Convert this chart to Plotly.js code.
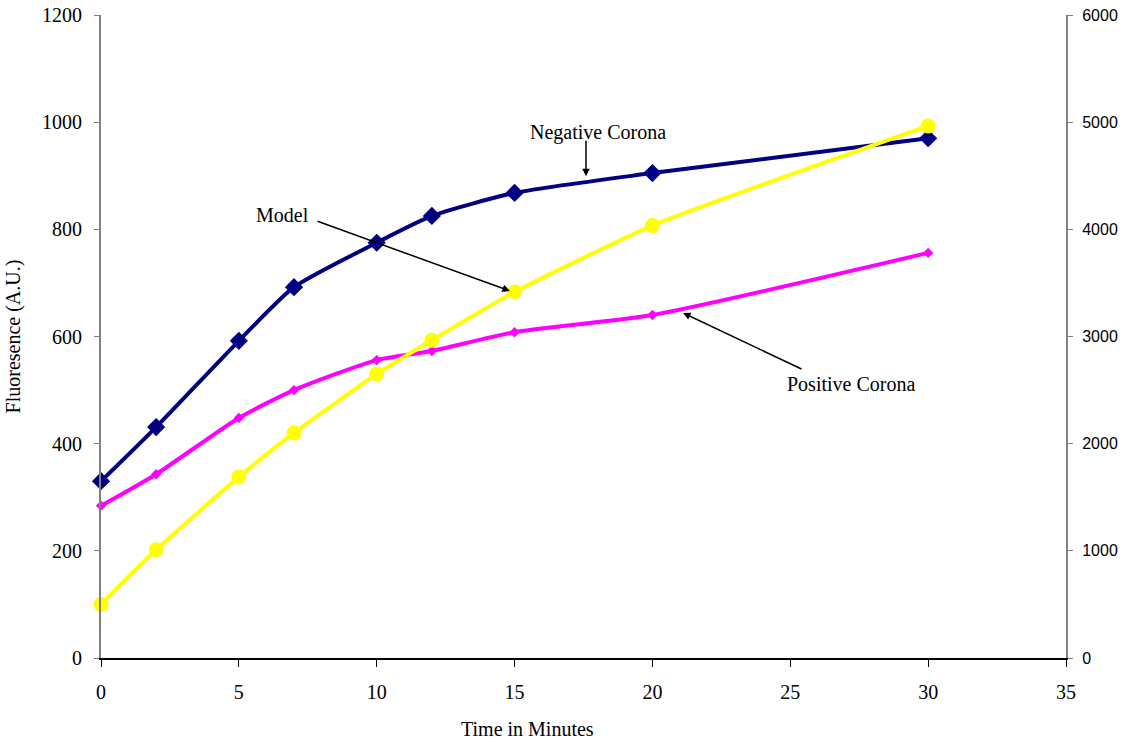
<!DOCTYPE html>
<html>
<head>
<meta charset="utf-8">
<script src="https://cdn.plot.ly/plotly-3.0.1.min.js"></script>
<style>html,body{margin:0;padding:0;background:#fff;}#chart{width:1125px;height:742px;}</style>
</head>
<body>
<div id="chart"></div>
<script>
const time = [0, 2, 5, 7, 10, 12, 15, 20, 30];
const negativeCorona = [330, 431, 592, 692, 775, 825, 868, 905, 970];
const positiveCorona = [284, 343, 448, 500, 556, 573, 608, 640, 756];
const model = [500, 1010, 1690, 2100, 2650, 2965, 3415, 4035, 4965];
const xTicks = [0, 5, 10, 15, 20, 25, 30, 35];
const yLeftTicks = [0, 200, 400, 600, 800, 1000, 1200];
const yRightTicks = [0, 1000, 2000, 3000, 4000, 5000, 6000];

const serif = 'Liberation Serif, Times New Roman, serif';
const sans = 'Liberation Sans, Arial, sans-serif';

const traces = [
  {x: time, y: model, yaxis: 'y2', mode: 'lines+markers', name: 'Model', cliponaxis: false,
   line: {color: '#FFFF00', width: 4, shape: 'spline', smoothing: 0.5},
   marker: {symbol: 'circle', size: 15, color: '#FFFF00'}},
  {x: time, y: positiveCorona, mode: 'lines+markers', name: 'Positive Corona', cliponaxis: false,
   line: {color: '#FF00FF', width: 4, shape: 'spline', smoothing: 0.6},
   marker: {symbol: 'diamond', size: 8, color: '#FF00FF'}},
  {x: time, y: negativeCorona, mode: 'lines+markers', name: 'Negative Corona', cliponaxis: false,
   line: {color: '#000080', width: 4, shape: 'spline', smoothing: 0.6},
   marker: {symbol: 'diamond', size: 14, color: '#000080'}}
];

const layout = {
  width: 1125, height: 742,
  margin: {l: 101, r: 59, t: 15, b: 84},
  paper_bgcolor: '#fff', plot_bgcolor: '#fff',
  showlegend: false,
  font: {family: serif, size: 20, color: '#000'},
  xaxis: {
    range: [0, 35], tickvals: xTicks, ticktext: xTicks.map(String),
    showgrid: false, zeroline: false, showline: true, linecolor: '#000', linewidth: 2,
    ticks: 'outside', ticklen: 7, tickcolor: '#000', tickwidth: 1,
    ticklabelstandoff: 8,
    tickfont: {family: serif, size: 20}
  },
  yaxis: {
    range: [0, 1200], tickvals: yLeftTicks, ticktext: yLeftTicks.map(String),
    showgrid: false, zeroline: false, showline: true, linecolor: '#808080', linewidth: 2,
    ticks: 'outside', ticklen: 5, tickcolor: '#808080', tickwidth: 1,
    ticklabelstandoff: 8,
    tickfont: {family: serif, size: 20},
    title: {text: 'Fluoresence (A.U.)', font: {family: serif, size: 20}, standoff: 16}
  },
  yaxis2: {
    range: [0, 6000], tickvals: yRightTicks, ticktext: yRightTicks.map(String),
    overlaying: 'y', side: 'right',
    showgrid: false, zeroline: false, showline: true, linecolor: '#808080', linewidth: 2,
    ticks: 'outside', ticklen: 5, tickcolor: '#808080', tickwidth: 1,
    ticklabelstandoff: 6,
    tickfont: {family: sans, size: 16}
  },
  annotations: [
    {x: 0.4415, y: -0.11, xref: 'paper', yref: 'paper', xanchor: 'center', yanchor: 'middle',
     text: 'Time in Minutes', showarrow: false, font: {family: serif, size: 20}},
    {x: 17.59, y: 899, ax: 17.59, ay: 968, xref: 'x', yref: 'y', axref: 'x', ayref: 'y',
     text: '', showarrow: true, arrowhead: 2, arrowsize: 1, arrowwidth: 1.5, arrowcolor: '#000'},
    {x: 18.03, y: 980, xref: 'x', yref: 'y', text: 'Negative Corona', showarrow: false,
     font: {family: serif, size: 20}},
    {x: 14.83, y: 685, ax: 7.8, ay: 816, xref: 'x', yref: 'y', axref: 'x', ayref: 'y',
     text: '', showarrow: true, arrowhead: 2, arrowsize: 1, arrowwidth: 1.5, arrowcolor: '#000'},
    {x: 6.6, y: 827, xref: 'x', yref: 'y', text: 'Model', showarrow: false,
     font: {family: serif, size: 20}},
    {x: 21.11, y: 644, ax: 25.46, ay: 538, xref: 'x', yref: 'y', axref: 'x', ayref: 'y',
     text: '', showarrow: true, arrowhead: 2, arrowsize: 1, arrowwidth: 1.5, arrowcolor: '#000'},
    {x: 27.2, y: 511, xref: 'x', yref: 'y', text: 'Positive Corona', showarrow: false,
     font: {family: serif, size: 20}}
  ]
};

Plotly.newPlot('chart', traces, layout, {displayModeBar: false, staticPlot: true});
</script>
</body>
</html>
